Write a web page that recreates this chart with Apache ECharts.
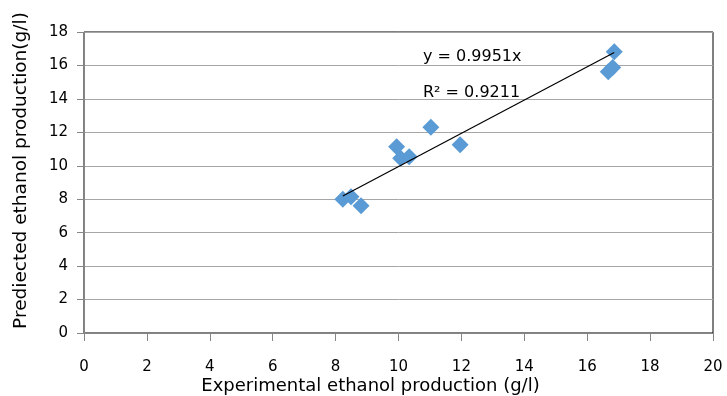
<!DOCTYPE html>
<html><head><meta charset="utf-8">
<script src="https://cdn.jsdelivr.net/npm/echarts@6/dist/echarts.min.js"></script>
<style>html,body{margin:0;padding:0;background:#fff}#c{width:727px;height:396px}</style>
</head><body><div id="c"></div>
<script>
var experimental = [8.23, 8.49, 8.81, 9.94, 10.07, 10.34, 11.03, 11.96, 16.67, 16.81, 16.86];
var predicted    = [8.00, 8.15, 7.61, 11.14, 10.45, 10.54, 12.30, 11.26, 15.63, 15.87, 16.82];
var slope = 0.9951;
var xTicks = [0, 2, 4, 6, 8, 10, 12, 14, 16, 18, 20];
var yTicks = [0, 2, 4, 6, 8, 10, 12, 14, 16, 18];
var eqText = 'y = 0.9951x';
var r2Text = 'R\u00b2 = 0.9211';

var pts = experimental.map(function(x, i){ return [x, predicted[i]]; });
var xmin = Math.min.apply(null, experimental), xmax = Math.max.apply(null, experimental);
var trend = [[xmin, slope * xmin], [xmax, slope * xmax]];

var font = 'Tahoma, "DejaVu Sans", sans-serif';
var chart = echarts.init(document.getElementById('c'));
chart.setOption({
  animation: false,
  grid: {left: 84, right: 14, top: 32, bottom: 63, show: true, borderColor: '#000', borderWidth: 1, containLabel: false, outerBoundsMode: 'none'},
  xAxis: {
    type: 'value', min: 0, max: 20, interval: 2,
    name: 'Experimental ethanol production (g/l)', nameLocation: 'middle', nameGap: 44, nameMoveOverlap: false,
    nameTextStyle: {fontFamily: font, fontSize: 18, color: '#000', padding: [0, 56, 0, 0]},
    axisLine: {show: true, lineStyle: {color: '#868686', width: 1}},
    axisTick: {show: true, length: 8, lineStyle: {color: '#868686'}},
    axisLabel: {margin: 27, fontFamily: font, fontSize: 15, color: '#000'},
    splitLine: {show: false}
  },
  yAxis: {
    type: 'value', min: 0, max: 18, interval: 2,
    name: 'Prediected ethanol production(g/l)', nameLocation: 'middle', nameGap: 53, nameMoveOverlap: false,
    nameTextStyle: {fontFamily: font, fontSize: 18.5, color: '#000', padding: [0, 0, 0, 24]},
    axisLine: {show: true, lineStyle: {color: '#868686', width: 1}},
    axisTick: {show: true, length: 7, lineStyle: {color: '#868686'}},
    axisLabel: {margin: 16, fontFamily: font, fontSize: 15, color: '#000'},
    splitLine: {show: true, lineStyle: {color: '#a6a6a6', width: 1}}
  },
  series: [
    {type: 'line', data: trend, symbol: 'none', lineStyle: {color: '#000', width: 1.2}, z: 3, silent: true},
    {type: 'scatter', data: pts, symbol: 'diamond', symbolSize: 17, itemStyle: {color: '#5b9bd5', opacity: 1}, z: 2}
  ],
  graphic: [
    {type: 'text', left: 423, top: 49, style: {text: eqText, font: '16px ' + font, fill: '#000'}},
    {type: 'text', left: 423, top: 85, style: {text: r2Text, font: '16px ' + font, fill: '#000'}}
  ]
});
</script></body></html>
